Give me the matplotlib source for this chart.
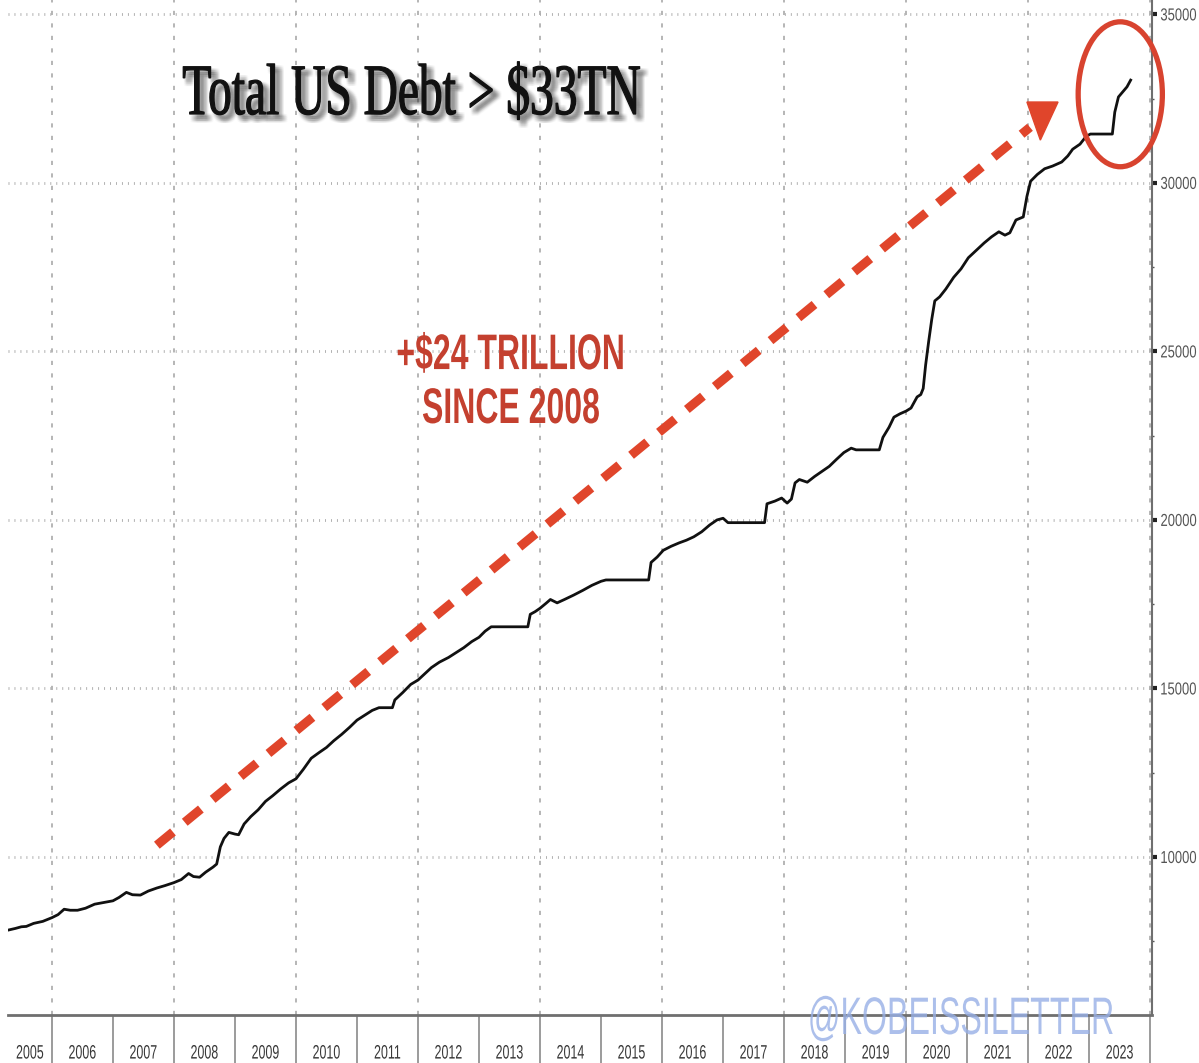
import numpy as np
import matplotlib
matplotlib.use('Agg')
import matplotlib.pyplot as plt
import matplotlib.colors as mcolors
from matplotlib import patheffects
from matplotlib.patches import Ellipse, Polygon
from matplotlib.transforms import Affine2D

plt.rcParams['lines.scale_dashes'] = False

### DATA - total public debt outstanding, $bn
dates = [2005.28, 2005.40, 2005.50, 2005.58, 2005.70, 2005.85,
         2006.00, 2006.10, 2006.20, 2006.30, 2006.42, 2006.55, 2006.70, 2006.85,
         2007.00, 2007.10, 2007.22, 2007.32, 2007.45, 2007.58, 2007.72, 2007.85,
         2008.00, 2008.12, 2008.24, 2008.32, 2008.42, 2008.52, 2008.64, 2008.70,
         2008.76, 2008.82, 2008.90,
         2009.00, 2009.06, 2009.15, 2009.26, 2009.38, 2009.50, 2009.62, 2009.75, 2009.88,
         2010.00, 2010.12, 2010.25, 2010.38, 2010.50, 2010.62, 2010.75, 2010.88,
         2011.00, 2011.12, 2011.25, 2011.36, 2011.58, 2011.62, 2011.75, 2011.88,
         2012.00, 2012.12, 2012.22, 2012.35, 2012.50, 2012.62, 2012.75, 2012.88,
         2013.00, 2013.10, 2013.20, 2013.80, 2013.84, 2013.92,
         2014.00, 2014.10, 2014.17, 2014.28, 2014.40, 2014.55, 2014.70, 2014.85,
         2015.00, 2015.08, 2015.78, 2015.82, 2015.92,
         2016.02, 2016.15, 2016.28, 2016.40, 2016.52, 2016.65, 2016.78, 2016.90,
         2017.00, 2017.08, 2017.68, 2017.72, 2017.85, 2017.96,
         2018.05, 2018.12, 2018.18, 2018.25, 2018.38, 2018.50, 2018.62, 2018.74, 2018.86, 2018.98,
         2019.10, 2019.18, 2019.56, 2019.62, 2019.72, 2019.80, 2019.90,
         2020.00, 2020.08, 2020.18, 2020.24, 2020.28, 2020.32, 2020.37, 2020.42, 2020.47,
         2020.55, 2020.65, 2020.78, 2020.90,
         2021.02, 2021.15, 2021.28, 2021.40, 2021.52, 2021.62, 2021.70, 2021.80, 2021.92, 2021.98,
         2022.04, 2022.15, 2022.27, 2022.40, 2022.55, 2022.65, 2022.73, 2022.85, 2022.95,
         2023.02, 2023.38, 2023.42, 2023.48, 2023.55, 2023.62, 2023.68]
debt = [7830, 7880, 7930, 7940, 8030, 8090,
        8200, 8290, 8450, 8420, 8420, 8480, 8600, 8650,
        8700, 8800, 8950, 8880, 8870, 8990, 9080, 9150,
        9240, 9330, 9510, 9420, 9400, 9550, 9700, 9790,
        10300, 10550, 10730,
        10680, 10660, 10980, 11200, 11400, 11650, 11820, 12020, 12200,
        12320, 12600, 12930, 13100, 13250, 13450, 13640, 13850,
        14060, 14200, 14350, 14430, 14430, 14660, 14880, 15120,
        15250, 15450, 15620, 15780, 15920, 16060, 16210, 16390,
        16520, 16700, 16830, 16830, 17200, 17280,
        17380, 17530, 17640, 17540, 17640, 17770, 17910, 18060,
        18180, 18220, 18220, 18740, 18900,
        19100, 19220, 19320, 19400, 19500, 19650, 19850, 20000,
        20050, 19920, 19920, 20480, 20560, 20650,
        20500, 20620, 21100, 21200, 21120, 21290, 21440, 21590, 21800, 22000,
        22130, 22080, 22080, 22450, 22750, 23050, 23150,
        23230, 23320, 23650, 23720, 23900, 24600, 25300, 25950, 26500,
        26620, 26850, 27200, 27450,
        27780, 28000, 28220, 28400, 28550, 28450, 28520, 28900, 28990, 29600,
        30050, 30250, 30420, 30500, 30620, 30800, 31000, 31150, 31380,
        31450, 31450, 32100, 32550, 32700, 32850, 33050]

year_edges = list(range(2006, 2025))
year_labels = [str(y) for y in range(2005, 2024)]
year_label_pos = [2005.64] + [y + 0.5 for y in range(2006, 2024)]
grid_years = list(range(2006, 2025, 2))
ytick_vals = [10000, 15000, 20000, 25000, 30000, 35000]
ytick_minor = [7500, 12500, 17500, 22500, 27500, 32500]

title = 'Total US Debt > $33TN'
callout = '+$24 TRILLION\nSINCE 2008'
handle = '@KOBEISSILETTER'

# annotation geometry (data units)
arrow_from = (2007.72, 10350)
arrow_to = (2022.03, 31650)
arrow_head = [(2022.49, 32400), (2021.98, 32400), (2022.20, 31270)]
ring_center = (2023.51, 32630)
ring_w, ring_h = 1.38, 4300

RED = '#e0452b'


class Squeeze(patheffects.AbstractPathEffect):
    """Draw text glyphs narrowed horizontally, optionally shifted/recoloured."""
    def __init__(self, sx, anchor='center', shift=(0, 0), color=None, alpha=None, lw=0):
        super().__init__()
        self.sx = sx
        self.anchor = anchor
        self.shift = shift
        self.color = color
        self.alpha = alpha
        self.lw = lw

    def draw_path(self, renderer, gc, tpath, affine, rgbFace=None):
        ext = tpath.get_extents()
        if self.anchor == 'left':
            x0 = ext.x0
        elif self.anchor == 'right':
            x0 = ext.x1
        else:
            x0 = 0.5 * (ext.x0 + ext.x1)
        squeeze = Affine2D().translate(-x0, 0).scale(self.sx, 1).translate(x0, 0)
        move = Affine2D().translate(*self.shift)
        gc0 = renderer.new_gc()
        gc0.copy_properties(gc)
        face = rgbFace if self.color is None else mcolors.to_rgba(self.color)
        if self.alpha is not None:
            gc0.set_alpha(self.alpha)
        if self.lw:
            gc0.set_linewidth(self.lw)
            gc0.set_foreground(face)
        renderer.draw_path(gc0, tpath, squeeze + affine + move, face)
        gc0.restore()


W, H = 1199, 1063
fig = plt.figure(figsize=(W / 100, H / 100), dpi=100)
fig.patch.set_facecolor('white')
ax = fig.add_axes([8 / W, 48 / H, 1144 / W, 1015 / H])
ax.set_xlim(2005.28, 2024.03)
ax.set_ylim(5312, 35427)

### Grid
ax.set_yticks(ytick_vals)
ax.set_yticks(ytick_minor, minor=True)
ax.grid(axis='y', which='major', color='#b0b0b0', lw=2.0, linestyle=(0, (0.7, 3.6)), zorder=0)
ax.vlines(grid_years, 5312, 35427, colors='#b0b0b0', lw=1.3, linestyles=[(0, (3, 6))], zorder=0)

### Debt line
ax.plot(dates, debt, color='#111111', lw=2.0, zorder=4)

### Spines
for s in ['left', 'top']:
    ax.spines[s].set_visible(False)
ax.spines['bottom'].set_color('#6f6f6f')
ax.spines['bottom'].set_linewidth(2.0)
ax.spines['right'].set_color('#6f6f6f')
ax.spines['right'].set_linewidth(1.5)

### X axis: year cells
ax.set_xticks(year_edges)
ax.set_xticklabels([''] * len(year_edges))
ax.set_xticks(year_label_pos, minor=True)
ax.set_xticklabels(year_labels, minor=True)
ax.tick_params(axis='x', which='major', direction='out', length=35, width=1.2, color='#8a8a8a')
ax.tick_params(axis='x', which='minor', length=0, pad=22, labelsize=14, labelcolor='#383838')
for lbl in ax.get_xticklabels(minor=True):
    lbl.set_fontfamily('Liberation Sans')
    lbl.set_path_effects([Squeeze(0.64)])

### Y axis on the right, labels pinned to the right edge then narrowed
ax.yaxis.tick_right()
ax.set_yticklabels([str(v) for v in ytick_vals])
ax.tick_params(axis='y', which='major', direction='out', length=3.5, width=3, color='#222222',
               pad=28.7, labelsize=12.5, labelcolor='#555555')
ax.tick_params(axis='y', which='minor', direction='out', length=1.5, width=1, color='#555555')
for lbl in ax.get_yticklabels():
    lbl.set_fontfamily('Liberation Sans')
    lbl.set_horizontalalignment('right')
    lbl.set_path_effects([Squeeze(0.75, anchor='right')])

### Dashed arrow
ax.plot([arrow_from[0], arrow_to[0]], [arrow_from[1], arrow_to[1]], color=RED, lw=6.5,
        dashes=(15, 11), solid_capstyle='butt', dash_capstyle='butt', zorder=5)
ax.add_patch(Polygon(arrow_head, closed=True, color=RED, zorder=5))

### Ring round the latest reading
ax.add_patch(Ellipse(ring_center, ring_w, ring_h, fill=False, ec='#d8432f', lw=3.8,
                     clip_on=False, zorder=6))

### Title with soft drop shadow
shadow = []
for dx in (2, 3, 4, 5, 6, 7, 8):
    for dy in (3, 5, 7):
        shadow.append(Squeeze(0.657, shift=(dx, -dy), color='#444444', alpha=0.025, lw=2.0))
fig.text(412 / W, 1 - 114 / H, title, ha='center', va='baseline', fontsize=52,
         family='Liberation Serif', color='#111111',
         path_effects=shadow + [Squeeze(0.657, lw=0.9)])

### Callout text (baseline of the second line)
fig.text(511 / W, 1 - 423 / H, callout, ha='center', va='baseline', fontsize=36,
         family='Liberation Sans', weight='bold', color='#c4402f', linespacing=1.22,
         path_effects=[Squeeze(0.64)])

### Handle watermark
fig.text(1115 / W, 1 - 1034 / H, handle, ha='right', va='baseline', fontsize=38,
         family='Liberation Sans', color='#98b0e6', alpha=0.8, zorder=10,
         path_effects=[Squeeze(0.61, anchor='right')])

fig.savefig('out.png', dpi=100)
